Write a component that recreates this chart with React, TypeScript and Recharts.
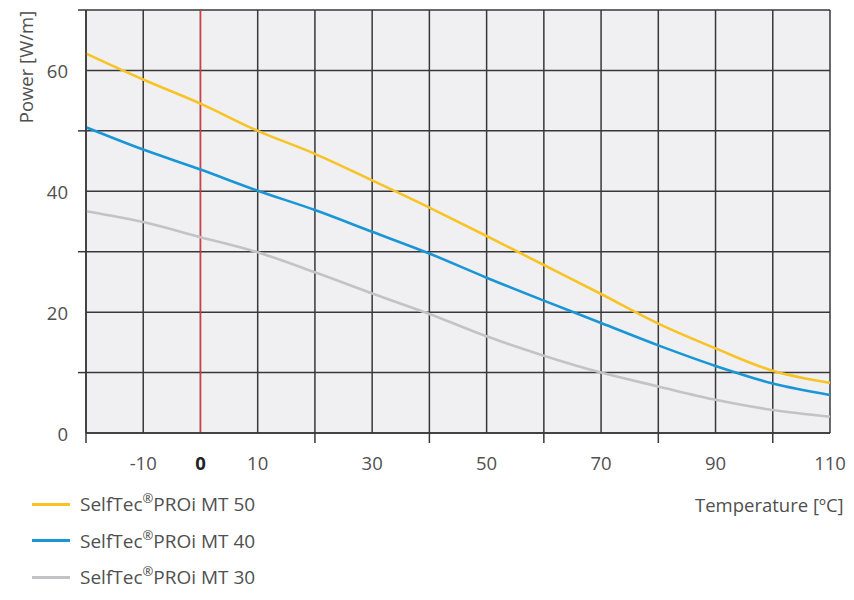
import { CartesianGrid, Line, LineChart, ReferenceLine, XAxis, YAxis } from "recharts";

const temps = [-20, -10, 0, 10, 20, 30, 40, 50, 60, 70, 80, 90, 100, 110];
const mt50 = [62.8, 58.5, 54.5, 50.0, 46.2, 41.8, 37.3, 32.6, 27.8, 23.0, 18.1, 14.0, 10.3, 8.3];
const mt40 = [50.6, 46.9, 43.6, 40.1, 36.9, 33.3, 29.7, 25.7, 21.9, 18.2, 14.5, 11.1, 8.2, 6.3];
const mt30 = [36.7, 34.9, 32.4, 29.9, 26.6, 23.1, 19.7, 16.0, 12.8, 10.0, 7.7, 5.5, 3.8, 2.7];

const xTicks = [-20, -10, 0, 10, 20, 30, 40, 50, 60, 70, 80, 90, 100, 110];
const xLabels = [-10, 0, 10, 30, 50, 70, 90, 110];
const xMarks = [-20, 20, 40, 60, 80, 100];
const yTicks = [0, 10, 20, 30, 40, 50, 60, 70];
const yLabels = [0, 20, 40, 60];
const yMarks = [10, 30, 50, 70];

const series = [
  { key: "mt50", name: "MT 50", color: "#f7c325" },
  { key: "mt40", name: "MT 40", color: "#1a96d6" },
  { key: "mt30", name: "MT 30", color: "#c3c3c5" },
];

const data = temps.map((t, i) => ({ t, mt50: mt50[i], mt40: mt40[i], mt30: mt30[i] }));

const TEXT = "#505050";
const GRID = "#383838";

const XTick = (props: any) => {
  const { x, y, payload } = props;
  const v = payload.value;
  return (
    <g>
      {xMarks.includes(v) && <line x1={x} x2={x} y1={y} y2={y + 10} stroke={GRID} strokeWidth={1.5} />}
      {xLabels.includes(v) && (
        <text
          x={x}
          y={y + 29}
          textAnchor="middle"
          dominantBaseline="central"
          fontSize={18.5}
          fontWeight={v === 0 ? 700 : 400}
          fill={v === 0 ? "#222" : TEXT}
        >
          {v}
        </text>
      )}
    </g>
  );
};

const YTick = (props: any) => {
  const { x, y, payload } = props;
  const v = payload.value;
  return (
    <g>
      {yMarks.includes(v) && <line x1={x - 8} x2={x} y1={y} y2={y} stroke={GRID} strokeWidth={1.5} />}
      {yLabels.includes(v) && (
        <text x={x - 18} y={y} textAnchor="end" dominantBaseline="central" fontSize={18.5} fill={TEXT}>
          {v}
        </text>
      )}
    </g>
  );
};

export default function App() {
  return (
    <div style={{ position: "relative", width: 854, height: 600, margin: -8, fontFamily: "'Open Sans', sans-serif", background: "#fff" }}>
      <LineChart width={854} height={600} data={data} margin={{ top: 10, right: 24, left: 0, bottom: 127 }}>
        <CartesianGrid stroke={GRID} strokeWidth={1.5} fill="#f0f0f2" fillOpacity={1} />
        <XAxis
          dataKey="t"
          type="number"
          domain={[-20, 110]}
          ticks={xTicks}
          interval={0}
          height={40}
          tickSize={0}
          tickMargin={0}
          tickLine={false}
          axisLine={{ stroke: GRID, strokeWidth: 1.5 }}
          tick={XTick}
        />
        <YAxis
          type="number"
          domain={[0, 70]}
          ticks={yTicks}
          interval={0}
          width={86}
          tickSize={0}
          tickMargin={0}
          tickLine={false}
          axisLine={{ stroke: GRID, strokeWidth: 1.5 }}
          tick={YTick}
        />
        <ReferenceLine x={0} stroke="#e8343e" strokeWidth={1.2} />
        {series.map((s) => (
          <Line
            key={s.key}
            type="monotone"
            dataKey={s.key}
            stroke={s.color}
            strokeWidth={2.6}
            dot={false}
            activeDot={false}
            isAnimationActive={false}
          />
        ))}
      </LineChart>

      <div
        style={{
          position: "absolute",
          left: 25,
          top: 67,
          transform: "translate(-50%, -50%) rotate(-90deg)",
          fontSize: 18.5,
          color: TEXT,
          whiteSpace: "nowrap",
        }}
      >
        Power [W/m]
      </div>

      <div style={{ position: "absolute", left: 695, top: 492, fontSize: 18.5, color: TEXT, whiteSpace: "nowrap", lineHeight: "26px" }}>
        Temperature [ºC]
      </div>

      {series.map((s, i) => (
        <div key={s.key} style={{ position: "absolute", left: 32, top: 491 + i * 36.5, height: 26, display: "flex", alignItems: "center" }}>
          <div style={{ width: 38, height: 3, background: s.color, marginRight: 10 }} />
          <span style={{ fontSize: 19, color: TEXT, whiteSpace: "nowrap" }}>
            SelfTec<sup style={{ fontSize: 13, verticalAlign: 0, position: "relative", top: -8 }}>®</sup>PROi {s.name}
          </span>
        </div>
      ))}

      <div style={{ position: "absolute", left: 0, top: 593, width: 585, height: 7, background: "#dfe9f4" }} />
    </div>
  );
}
